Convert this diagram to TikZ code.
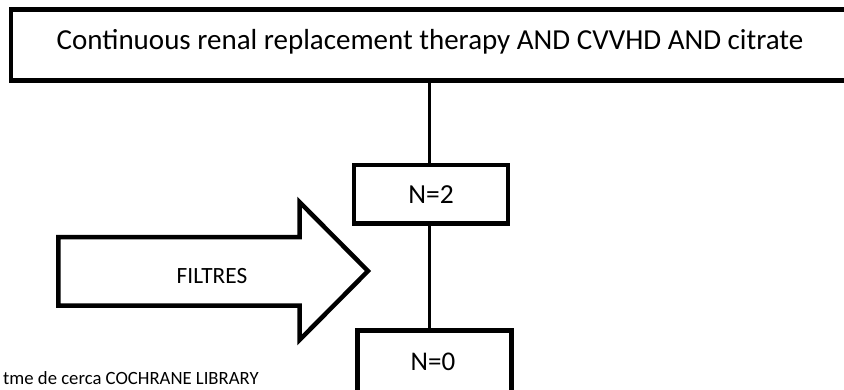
\documentclass[tikz,border=0pt]{standalone}
\usepackage{fontspec}
\setmainfont{Carlito}
\begin{document}
\begin{tikzpicture}[x=1pt,y=-1pt,
  frame/.style={draw=black,fill=white,inner sep=0pt},
  link/.style={draw=black,line width=3.5pt},
  bigarrow/.style={draw=black,fill=white,line width=4.5pt,line join=miter,miter limit=10},
  txt/.style={inner sep=0pt,text=black}]
\useasboundingbox (0,0) rectangle (844,389);
\clip (0,0) rectangle (844,389);

% search query box (runs past the right edge)
\node[frame,line width=4.7pt,minimum width=843pt,minimum height=71.6pt] (query) at (432.4,45) {};
\node[txt,anchor=base,font=\fontsize{29}{34}\selectfont] (querytext) at (430,49)
  {Continuous renal replacement therapy AND CVVHD AND citrate};

% result boxes
\node[frame,line width=4.5pt,minimum width=154pt,minimum height=58.4pt,
  font=\fontsize{27.5}{32}\selectfont] (n2) at (431,194.2) {N=2};
\node[frame,line width=5pt,minimum width=154pt,minimum height=63pt] (n0) at (434.5,361.5) {};
\node[txt,font=\fontsize{27}{32}\selectfont] (n0text) at (433,361.5) {N=0};

% connectors
\coordinate (spine) at (429.3,0);
\draw[link] (spine |- query.south) -- (spine |- n2.north);
\draw[link] (spine |- n2.south) -- (spine |- n0.north);

% filter arrow
\draw[bigarrow] (58.3,237) -- (299.5,237) -- (299.5,202) -- (368,271)
  -- (299.5,340) -- (299.5,305.7) -- (58.3,305.7) -- cycle;
\node[txt,font=\fontsize{23.3}{27}\selectfont] (filtres) at (212,275.8) {FILTRES};

% source note
\node[txt,anchor=base west,font=\fontsize{18.7}{22}\selectfont] (source) at (3,384)
  {tme de cerca COCHRANE LIBRARY};
\end{tikzpicture}
\end{document}
